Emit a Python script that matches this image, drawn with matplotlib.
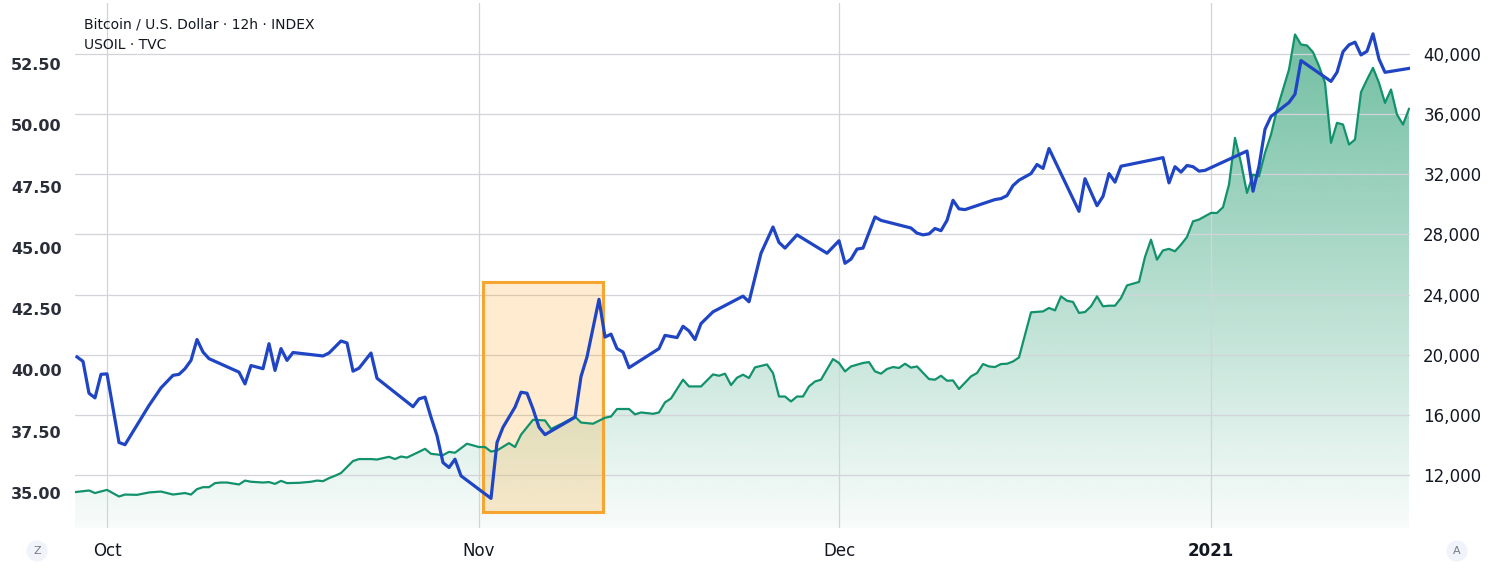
import numpy as np
import pandas as pd
import matplotlib
matplotlib.use("Agg")
import matplotlib.pyplot as plt
import matplotlib.dates as mdates
from matplotlib.patches import Rectangle
from matplotlib.ticker import FixedLocator, FuncFormatter

# ---------------- data ----------------
btc_time = [
 "2020-09-28 00:00","2020-09-29 12:00","2020-09-30 00:00","2020-10-01 00:00","2020-10-02 00:00","2020-10-02 12:00",
 "2020-10-03 12:00","2020-10-04 12:00","2020-10-05 12:00","2020-10-06 12:00","2020-10-07 12:00","2020-10-08 00:00",
 "2020-10-08 12:00","2020-10-09 00:00","2020-10-09 12:00","2020-10-10 00:00","2020-10-10 12:00","2020-10-11 00:00",
 "2020-10-12 00:00","2020-10-12 12:00","2020-10-13 00:00","2020-10-14 00:00","2020-10-14 12:00","2020-10-15 00:00",
 "2020-10-15 12:00","2020-10-16 00:00","2020-10-17 00:00","2020-10-18 00:00","2020-10-18 12:00","2020-10-19 00:00",
 "2020-10-19 12:00","2020-10-20 00:00","2020-10-20 12:00","2020-10-21 12:00","2020-10-22 00:00","2020-10-23 00:00",
 "2020-10-23 12:00","2020-10-24 12:00","2020-10-25 00:00","2020-10-25 12:00","2020-10-26 00:00","2020-10-27 00:00",
 "2020-10-27 12:00","2020-10-28 00:00","2020-10-29 00:00","2020-10-29 12:00","2020-10-30 00:00","2020-10-31 00:00",
 "2020-11-01 00:00","2020-11-01 12:00","2020-11-02 00:00","2020-11-02 12:00","2020-11-03 12:00","2020-11-04 00:00",
 "2020-11-04 12:00","2020-11-05 12:00","2020-11-06 12:00","2020-11-07 00:00","2020-11-08 00:00","2020-11-09 00:00",
 "2020-11-09 12:00","2020-11-10 12:00","2020-11-11 12:00","2020-11-12 00:00","2020-11-12 12:00","2020-11-13 12:00",
 "2020-11-14 00:00","2020-11-14 12:00","2020-11-15 12:00","2020-11-16 00:00","2020-11-16 12:00","2020-11-17 00:00",
 "2020-11-18 00:00","2020-11-18 12:00","2020-11-19 12:00","2020-11-20 12:00","2020-11-21 00:00","2020-11-21 12:00",
 "2020-11-22 00:00","2020-11-22 12:00","2020-11-23 00:00","2020-11-23 12:00","2020-11-24 00:00","2020-11-25 00:00",
 "2020-11-25 12:00","2020-11-26 00:00","2020-11-26 12:00","2020-11-27 00:00","2020-11-27 12:00","2020-11-28 00:00",
 "2020-11-28 12:00","2020-11-29 00:00","2020-11-29 12:00","2020-11-30 12:00","2020-12-01 00:00","2020-12-01 12:00",
 "2020-12-02 00:00","2020-12-03 00:00","2020-12-03 12:00","2020-12-04 00:00","2020-12-04 12:00","2020-12-05 00:00",
 "2020-12-05 12:00","2020-12-06 00:00","2020-12-06 12:00","2020-12-07 00:00","2020-12-07 12:00","2020-12-08 12:00",
 "2020-12-09 00:00","2020-12-09 12:00","2020-12-10 00:00","2020-12-10 12:00","2020-12-11 00:00","2020-12-12 00:00",
 "2020-12-12 12:00","2020-12-13 00:00","2020-12-13 12:00","2020-12-14 00:00","2020-12-14 12:00","2020-12-15 00:00",
 "2020-12-15 12:00","2020-12-16 00:00","2020-12-17 00:00","2020-12-18 00:00","2020-12-18 12:00","2020-12-19 00:00",
 "2020-12-19 12:00","2020-12-20 00:00","2020-12-20 12:00","2020-12-21 00:00","2020-12-21 12:00","2020-12-22 00:00",
 "2020-12-22 12:00","2020-12-23 00:00","2020-12-23 12:00","2020-12-24 00:00","2020-12-24 12:00","2020-12-25 00:00",
 "2020-12-26 00:00","2020-12-26 12:00","2020-12-27 00:00","2020-12-27 12:00","2020-12-28 00:00","2020-12-28 12:00",
 "2020-12-29 00:00","2020-12-29 12:00","2020-12-30 00:00","2020-12-30 12:00","2020-12-31 00:00","2021-01-01 00:00",
 "2021-01-01 12:00","2021-01-02 00:00","2021-01-02 12:00","2021-01-03 00:00","2021-01-03 12:00","2021-01-04 00:00",
 "2021-01-04 12:00","2021-01-05 00:00","2021-01-05 12:00","2021-01-06 00:00","2021-01-06 12:00","2021-01-07 00:00",
 "2021-01-07 12:00","2021-01-08 00:00","2021-01-08 12:00","2021-01-09 00:00","2021-01-09 12:00","2021-01-10 00:00",
 "2021-01-10 12:00","2021-01-11 00:00","2021-01-11 12:00","2021-01-12 00:00","2021-01-12 12:00","2021-01-13 00:00",
 "2021-01-13 12:00","2021-01-14 00:00","2021-01-14 12:00","2021-01-15 00:00","2021-01-15 12:00","2021-01-16 00:00",
 "2021-01-16 12:00","2021-01-17 00:00","2021-01-17 12:00",
]
btc_close = [
 10830,10970,10800,11010,10570,10700,
 10680,10840,10900,10700,10800,10700,
 11060,11190,11190,11460,11500,11500,
 11370,11630,11550,11500,11530,11410,
 11610,11460,11480,11550,11630,11590,
 11790,11950,12130,12930,13060,13060,
 13030,13210,13060,13230,13160,13540,
 13740,13410,13320,13540,13480,14080,
 13860,13860,13560,13630,14120,13860,
 14680,15670,15630,15060,15450,15890,
 15490,15410,15810,15890,16390,16390,
 16030,16160,16070,16160,16830,17090,
 18340,17890,17890,18690,18600,18740,
 17980,18470,18670,18450,19160,19350,
 18780,17220,17220,16890,17220,17220,
 17890,18220,18340,19710,19450,18890,
 19220,19450,19510,18890,18740,19050,
 19180,19120,19400,19140,19220,18380,
 18340,18600,18270,18290,17720,18560,
 18780,19380,19220,19180,19380,19400,
 19550,19820,22820,22880,23110,22950,
 23880,23590,23510,22780,22840,23220,
 23880,23220,23260,23260,23770,24610,
 24840,26500,27650,26320,26940,27040,
 26880,27320,27830,28870,28990,29430,
 29430,29810,31320,34420,32760,30760,
 31980,31870,33430,34640,36310,37640,
 38970,41300,40630,40570,40120,39190,
 38080,34090,35420,35310,33980,34310,
 37460,38300,39080,38080,36750,37640,
 35970,35310,36350,
]

oil_time = [
 "2020-09-28 12:00","2020-09-29 00:00","2020-09-29 12:00","2020-09-30 00:00","2020-09-30 12:00","2020-10-01 00:00",
 "2020-10-02 00:00","2020-10-02 12:00","2020-10-04 12:00","2020-10-05 12:00","2020-10-06 12:00","2020-10-07 00:00",
 "2020-10-07 12:00","2020-10-08 00:00","2020-10-08 12:00","2020-10-09 00:00","2020-10-09 12:00","2020-10-12 00:00",
 "2020-10-12 12:00","2020-10-13 00:00","2020-10-14 00:00","2020-10-14 12:00","2020-10-15 00:00","2020-10-15 12:00",
 "2020-10-16 00:00","2020-10-16 12:00","2020-10-19 00:00","2020-10-19 12:00","2020-10-20 12:00","2020-10-21 00:00",
 "2020-10-21 12:00","2020-10-22 00:00","2020-10-23 00:00","2020-10-23 12:00","2020-10-26 12:00","2020-10-27 00:00",
 "2020-10-27 12:00","2020-10-28 00:00","2020-10-28 12:00","2020-10-29 00:00","2020-10-29 12:00","2020-10-30 00:00",
 "2020-10-30 12:00","2020-11-02 00:00","2020-11-02 12:00","2020-11-03 00:00","2020-11-04 00:00","2020-11-04 12:00",
 "2020-11-05 00:00","2020-11-05 12:00","2020-11-06 00:00","2020-11-06 12:00","2020-11-09 00:00","2020-11-09 12:00",
 "2020-11-10 00:00","2020-11-11 00:00","2020-11-11 12:00","2020-11-12 00:00","2020-11-12 12:00","2020-11-13 00:00",
 "2020-11-13 12:00","2020-11-16 00:00","2020-11-16 12:00","2020-11-17 12:00","2020-11-18 00:00","2020-11-18 12:00",
 "2020-11-19 00:00","2020-11-19 12:00","2020-11-20 12:00","2020-11-23 00:00","2020-11-23 12:00","2020-11-24 12:00",
 "2020-11-25 12:00","2020-11-26 00:00","2020-11-26 12:00","2020-11-27 12:00","2020-11-30 00:00","2020-12-01 00:00",
 "2020-12-01 12:00","2020-12-02 00:00","2020-12-02 12:00","2020-12-03 00:00","2020-12-04 00:00","2020-12-04 12:00",
 "2020-12-07 00:00","2020-12-07 12:00","2020-12-08 00:00","2020-12-08 12:00","2020-12-09 00:00","2020-12-09 12:00",
 "2020-12-10 00:00","2020-12-10 12:00","2020-12-11 00:00","2020-12-11 12:00","2020-12-14 00:00","2020-12-14 12:00",
 "2020-12-15 00:00","2020-12-15 12:00","2020-12-16 00:00","2020-12-17 00:00","2020-12-17 12:00","2020-12-18 00:00",
 "2020-12-18 12:00","2020-12-21 00:00","2020-12-21 12:00","2020-12-22 12:00","2020-12-23 00:00","2020-12-23 12:00",
 "2020-12-24 00:00","2020-12-24 12:00","2020-12-28 00:00","2020-12-28 12:00","2020-12-29 00:00","2020-12-29 12:00",
 "2020-12-30 00:00","2020-12-30 12:00","2020-12-31 00:00","2020-12-31 12:00","2021-01-04 00:00","2021-01-04 12:00",
 "2021-01-05 00:00","2021-01-05 12:00","2021-01-06 00:00","2021-01-07 12:00","2021-01-08 00:00","2021-01-08 12:00",
 "2021-01-11 00:00","2021-01-11 12:00","2021-01-12 00:00","2021-01-12 12:00","2021-01-13 00:00","2021-01-13 12:00",
 "2021-01-14 00:00","2021-01-14 12:00","2021-01-15 00:00","2021-01-15 12:00","2021-01-17 12:00",
]
oil_close = [
 40.55,40.37,39.07,38.88,39.84,39.86,
 37.06,36.97,38.57,39.29,39.80,39.84,
 40.07,40.41,41.26,40.75,40.48,39.93,
 39.45,40.20,40.07,41.09,40.00,40.89,
 40.41,40.73,40.59,40.71,41.20,41.12,
 39.97,40.09,40.71,39.68,38.52,38.84,
 38.91,38.09,37.34,36.24,36.04,36.38,
 35.70,34.78,37.06,37.68,38.50,39.11,
 39.07,38.43,37.68,37.38,38.09,39.75,
 40.55,42.90,41.36,41.48,40.89,40.75,
 40.11,40.89,41.43,41.34,41.80,41.61,
 41.26,41.91,42.39,43.03,42.80,44.78,
 45.85,45.22,44.99,45.53,44.78,45.29,
 44.37,44.54,44.95,44.99,46.26,46.12,
 45.81,45.60,45.53,45.57,45.79,45.70,
 46.12,46.94,46.59,46.56,46.97,47.01,
 47.13,47.54,47.76,48.03,48.40,48.24,
 49.05,46.49,47.82,46.72,47.10,48.03,
 47.68,48.33,48.68,47.65,48.31,48.09,
 48.36,48.31,48.13,48.16,48.95,47.31,
 48.33,49.84,50.36,50.93,51.27,52.64,
 51.79,52.16,53.00,53.28,53.39,52.87,
 53.02,53.73,52.70,52.16,52.32,
]

oil_ticks = [35.0, 37.5, 40.0, 42.5, 45.0, 47.5, 50.0, 52.5]
btc_ticks = [12000, 16000, 20000, 24000, 28000, 32000, 36000, 40000]
month_ticks = ["2020-10-01", "2020-11-01", "2020-12-01", "2021-01-01"]
month_labels = ["Oct", "Nov", "Dec", "2021"]
legend_lines = ["Bitcoin / U.S. Dollar \u00b7 12h \u00b7 INDEX", "USOIL \u00b7 TVC"]

# highlight box (time span and BTC value span)
box_start, box_end = "2020-11-01 08:00", "2020-11-11 08:00"
box_low, box_high = 9550, 24860

# ---------------- styling ----------------
plt.rcParams['font.family'] = ['DejaVu Sans']
BLUE = "#1f45c5"
GREEN = "#12926c"
FILL_RGB = np.array([25, 150, 105]) / 255.0
TEXT = "#131722"
GRID = "#d2d4da"

fig = plt.figure(figsize=(14.99, 5.73), dpi=100)
ax = fig.add_axes([75/1499, 45/573, 1335/1499, 525/573])
ax2 = ax.twinx()

bt = pd.to_datetime(btc_time)
ot = pd.to_datetime(oil_time)
bx = mdates.date2num(bt)
ox = mdates.date2num(ot)

xmin = mdates.date2num(pd.Timestamp("2020-09-28 08:00"))
xmax = mdates.date2num(pd.Timestamp("2021-01-17 14:00"))
btc_lim = (8475, 43392)
oil_lim = (33.572, 54.988)

# gradient area for BTC
poly = ax.fill_between(bx, btc_close, btc_lim[0], facecolor="none", edgecolor="none")
n = 256
rgba = np.zeros((n, 1, 4))
rgba[..., :3] = FILL_RGB
rgba[:, 0, 3] = np.linspace(0.03, 0.62, n)
top_val = max(btc_close)
im = ax.imshow(rgba, extent=[xmin, xmax, btc_lim[0], top_val], origin="lower",
               aspect="auto", zorder=1, interpolation="bilinear")
im.set_clip_path(poly.get_paths()[0], transform=ax.transData)

# highlight rectangle
bs = mdates.date2num(pd.Timestamp(box_start))
be = mdates.date2num(pd.Timestamp(box_end))
ax.add_patch(Rectangle((bs, box_low), be - bs, box_high - box_low,
                       facecolor=(1.0, 0.6, 0.0, 0.19), edgecolor="#f5a530",
                       linewidth=2.2, zorder=2))

ax.plot(bx, btc_close, color=GREEN, lw=1.6, zorder=3, solid_joinstyle="round")
ax2.plot(ox, oil_close, color=BLUE, lw=2.3, zorder=3, solid_joinstyle="round")

ax.set_xlim(xmin, xmax)
ax.set_ylim(*btc_lim)
ax2.set_ylim(*oil_lim)

# grid
ax.set_axisbelow("line")
ax.yaxis.set_major_locator(FixedLocator(btc_ticks))
ax.xaxis.set_major_locator(FixedLocator(mdates.date2num(pd.to_datetime(month_ticks))))
ax.grid(True, color=GRID, lw=0.9)

# ticks
ax.yaxis.tick_right()
ax.yaxis.set_major_formatter(FuncFormatter(lambda v, p: f"{int(v):,}"))
ax.tick_params(axis="y", length=0, pad=9.5, labelsize=12, labelcolor=TEXT)
ax.xaxis.set_major_formatter(FuncFormatter(lambda v, p: ""))
ax.tick_params(axis="x", length=0)

ax2.yaxis.tick_left()
ax2.yaxis.set_major_locator(FixedLocator(oil_ticks))
ax2.yaxis.set_major_formatter(FuncFormatter(lambda v, p: f"{v:.2f}"))
ax2.tick_params(axis="y", length=0, pad=9.5, labelsize=11.5, labelcolor="#2a2e39")
for lab in ax2.get_yticklabels():
    lab.set_fontweight("bold")

for s in list(ax.spines.values()) + list(ax2.spines.values()):
    s.set_visible(False)

# month labels
for d, lab in zip(month_ticks, month_labels):
    xv = mdates.date2num(pd.Timestamp(d))
    ax.text(xv, -0.043, lab, transform=ax.get_xaxis_transform(), ha="center", va="center",
            fontsize=12, color=TEXT, fontweight="bold" if lab == "2021" else "normal")

# legend texts
fig.text(84/1499, 1 - 24/573, legend_lines[0], fontsize=10, color=TEXT, va="center", ha="left")
fig.text(84/1499, 1 - 45/573, legend_lines[1], fontsize=10, color=TEXT, va="center", ha="left")

# Z / A buttons
for xp, ch in [(37, "Z"), (1457, "A")]:
    fig.text(xp/1499, 1 - 551/573, ch, fontsize=8, color="#787b86", ha="center", va="center",
             bbox=dict(boxstyle="circle,pad=0.5", facecolor="#f0f3fa", edgecolor="none"))

fig.savefig("out.png", dpi=100)
